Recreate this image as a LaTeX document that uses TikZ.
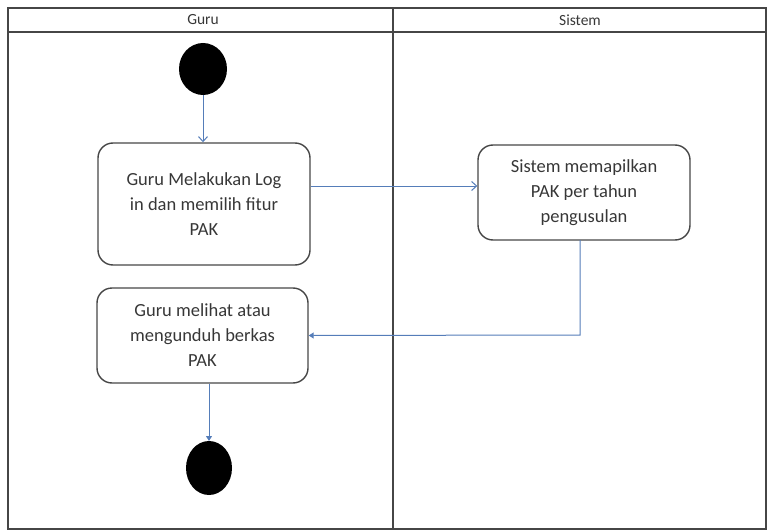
\documentclass[tikz,border=0pt]{standalone}
\usepackage{fontspec}
\setmainfont{Carlito}
\usetikzlibrary{arrows.meta}
\definecolor{flow}{RGB}{85,125,185}
\definecolor{edge}{RGB}{70,70,70}
\definecolor{txt}{RGB}{55,55,55}
\begin{document}
\begin{tikzpicture}[x=1pt,y=-1pt,
  act/.style={draw=edge,line width=1.4pt,rounded corners=15pt,align=center,text=txt,font=\fontsize{18.5}{25}\selectfont,inner sep=0pt},
  flowline/.style={draw=flow,line width=1pt}]
\useasboundingbox (0,0) rectangle (768,532);
\draw[edge,line width=1.2pt] (8,8) rectangle (766,529);
\draw[edge,line width=1.2pt] (8,32) -- (766,32);
\draw[edge,line width=1.2pt] (393,8) -- (393,529);
\node[text=txt,font=\fontsize{15.5}{18}\selectfont] (hg) at (203,20) {Guru};
\node[text=txt,font=\fontsize{15.5}{18}\selectfont] (hs) at (580,20) {Sistem};
\fill (203,69) ellipse (24 and 26);
\coordinate (s) at (203,95);
\node[act,minimum width=212pt,minimum height=122pt] (b1) at (204,204) {Guru Melakukan Log\\in dan memilih fitur\\PAK};
\node[act,minimum width=212pt,minimum height=95pt] (b2) at (584,192.5) {Sistem memapilkan\\PAK per tahun\\pengusulan};
\node[act,minimum width=211pt,minimum height=95pt] (b3) at (202.5,335.5) {Guru melihat atau\\mengunduh berkas\\PAK};
\fill (209,468) ellipse (23 and 27);
\coordinate (e) at (209,441);
\draw[flowline,-{Straight Barb[length=5pt,width=9pt]}] (s) -- (b1.north -| s);
\draw[flowline,-{Straight Barb[length=5pt,width=9pt]}] (b1.east |- 0,186) -- (b2.west |- 0,186);
\draw[flowline,-{Triangle[length=5pt,width=6pt]}] (580,240) -- (580,335) -- (b3.east);
\draw[flowline,-{Triangle[length=5pt,width=6pt]}] (b3.south -| e) -- (e);
\end{tikzpicture}
\end{document}
